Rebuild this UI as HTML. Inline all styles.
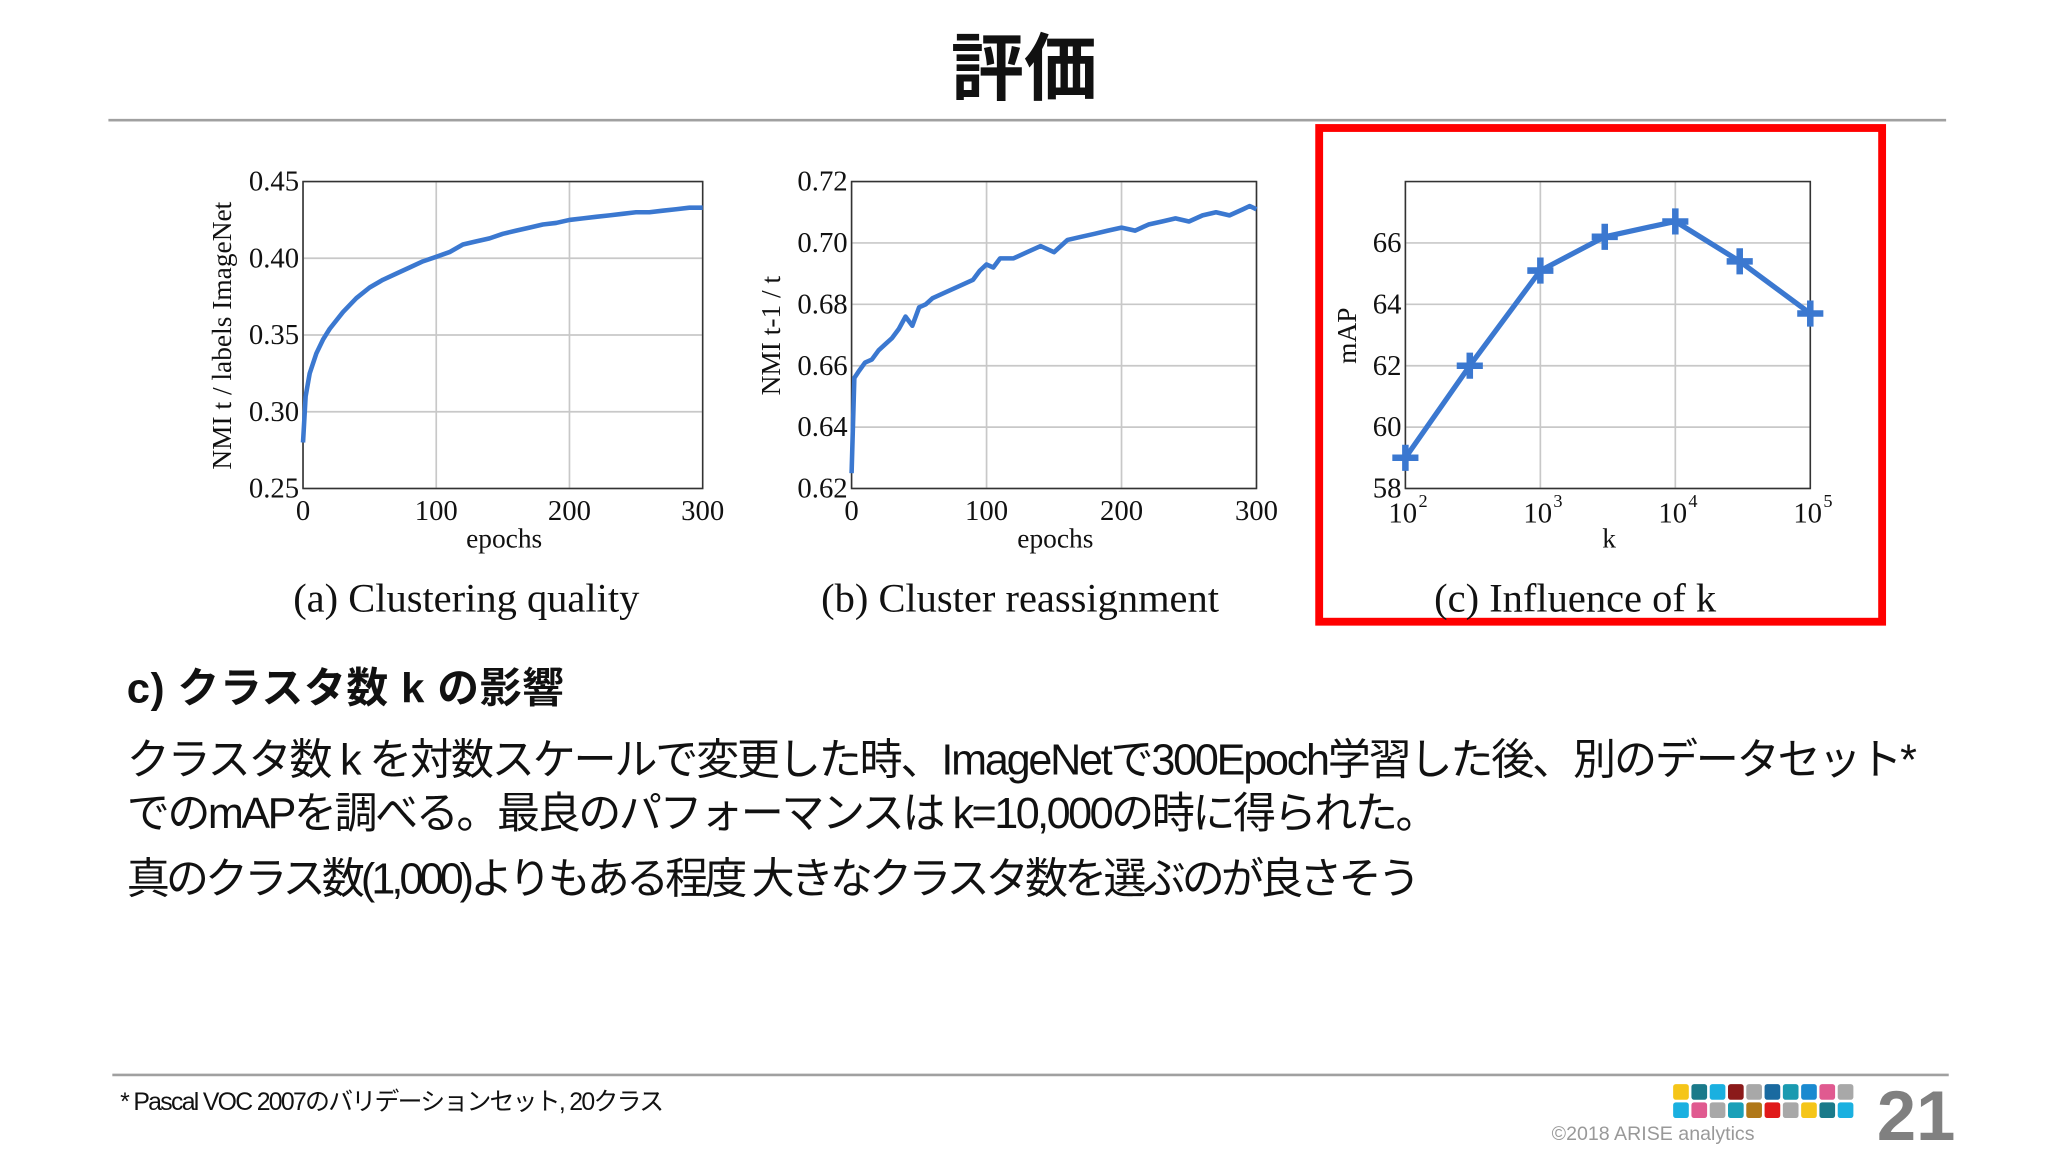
<!DOCTYPE html>
<html><head><meta charset="utf-8">
<style>
html,body{margin:0;padding:0;background:#fff;}
#wrap{width:2048px;height:1152px;overflow:hidden;position:relative;background:#fff;}
#stage{position:absolute;left:0;top:0;width:1568px;height:882px;transform:scale(1.306122);transform-origin:0 0;font-family:"Liberation Sans","Noto Sans CJK JP",sans-serif;}
.abs{position:absolute;white-space:nowrap;}
svg text{font-family:"Liberation Serif","DejaVu Serif",serif;}
</style></head><body>
<div id="wrap"><div id="stage">
<div class="abs" style="left:0;width:1568px;text-align:center;top:8px;font-size:56px;font-weight:bold;color:#111;">評価</div>
<div class="abs" style="left:83px;top:91px;width:1407px;height:2px;background:#a0a0a0;"></div>
<svg id="charts" width="1568" height="490" style="position:absolute;left:0;top:0;"></svg>
<div class="abs" style="left:97px;top:502px;font-size:32px;font-weight:bold;color:#111;letter-spacing:0.5px;">c) クラスタ数 k の影響</div>
<div class="abs" style="left:97px;top:555px;font-size:33px;color:#111;letter-spacing:-1.7px;">クラスタ数 k を対数スケールで変更した時、ImageNetで300Epoch学習した後、別のデータセット*</div>
<div class="abs" style="left:97px;top:596px;font-size:33px;color:#111;letter-spacing:-1.9px;">でのmAPを調べる。最良のパフォーマンスは k=10,000の時に得られた。</div>
<div class="abs" style="left:97px;top:646px;font-size:33px;color:#111;letter-spacing:-3px;">真のクラス数(1,000)よりもある程度 大きなクラスタ数を選ぶのが良さそう</div>
<div class="abs" style="left:86px;top:822px;width:1406px;height:2px;background:#a0a0a0;"></div>
<div class="abs" style="left:92px;top:829px;font-size:19px;color:#111;letter-spacing:-1.3px;">* Pascal VOC 2007のバリデーションセット, 20クラス</div>
<div id="logo" class="abs" style="left:1281px;top:830px;width:140px;height:28px;"></div>
<div class="abs" style="left:1188px;top:860px;font-size:15px;color:#999;">©2018 ARISE analytics</div>
<div class="abs" style="left:1437px;top:824px;font-size:54px;font-weight:bold;color:#808080;">21</div>
</div></div>
<script>
// ---------- data ----------
const epochsA = [0,2,5,10,15,20,30,40,50,60,70,80,90,100,110,120,130,140,150,160,170,180,190,200,210,220,230,240,250,260,270,280,290,300];
const nmiA    = [0.28,0.31,0.325,0.338,0.347,0.354,0.365,0.374,0.381,0.386,0.390,0.394,0.398,0.401,0.404,0.409,0.411,0.413,0.416,0.418,0.420,0.422,0.423,0.425,0.426,0.427,0.428,0.429,0.430,0.430,0.431,0.432,0.433,0.433];
const epochsB = [0,2,5,10,15,20,25,30,35,40,45,50,55,60,70,80,90,95,100,105,110,120,130,140,150,160,170,180,190,200,210,220,230,240,250,260,270,280,290,295,300];
const nmiB    = [0.625,0.656,0.658,0.661,0.662,0.665,0.667,0.669,0.672,0.676,0.673,0.679,0.68,0.682,0.684,0.686,0.688,0.691,0.693,0.692,0.695,0.695,0.697,0.699,0.697,0.701,0.702,0.703,0.704,0.705,0.704,0.706,0.707,0.708,0.707,0.709,0.71,0.709,0.711,0.712,0.711];
const kValues = [100,300,1000,3000,10000,30000,100000];
const mapValues = [59.0,62.0,65.1,66.2,66.7,65.4,63.7];
const ticksAY = [0.25,0.30,0.35,0.40,0.45];
const ticksBY = [0.62,0.64,0.66,0.68,0.70,0.72];
const ticksEp = [0,100,200,300];
const ticksCY = [58,60,62,64,66];
const ticksCExp = [2,3,4,5];
const logoColors = ["#f5c518","#1a7a8a","#1ab0e0","#8b1a1a","#a8a8a8","#1a6aa0","#1a9ab0","#1a8ad0","#e05a90","#a8a8a8","#1ab0e0","#e05a90","#a8a8a8","#1aa0b8","#b07818","#e01a1a","#a8a8a8","#f5c518","#1a7a8a","#1ab0e0"];

const NS="http://www.w3.org/2000/svg";
const svg=document.getElementById('charts');
function el(tag,attrs,parent){const e=document.createElementNS(NS,tag);for(const k in attrs)e.setAttribute(k,attrs[k]);(parent||svg).appendChild(e);return e;}
function txt(s,attrs,parent){const e=el('text',attrs,parent);e.textContent=s;return e;}

function panel(name,box,xmin,xmax,ymin,ymax,xScaleFn){
  const g=el('g',{});
  
  
  const sx=v=>box.x0+(xScaleFn(v)-xScaleFn(xmin))/(xScaleFn(xmax)-xScaleFn(xmin))*(box.x1-box.x0);
  const sy=v=>box.y1-(v-ymin)/(ymax-ymin)*(box.y1-box.y0);
  return {g,sx,sy};
}
const lin=v=>v, lg=v=>Math.log10(v);

function frame(p,box,yt,xt,ylabFmt,xlabelsFn,sxTick){
  yt.forEach(t=>{
    const l=el('line',{x1:box.x0,x2:box.x1,y1:p.sy(t),y2:p.sy(t),stroke:'#c8c8c8','stroke-width':1.3},p.g);
    
  });
  xt.forEach(t=>{
    const x=sxTick(t);
    const l=el('line',{x1:x,x2:x,y1:box.y0,y2:box.y1,stroke:'#c8c8c8','stroke-width':1.3},p.g);
    
  });
  const r=el('rect',{x:box.x0,y:box.y0,width:box.x1-box.x0,height:box.y1-box.y0,fill:'none',stroke:'#333','stroke-width':1.2},p.g);
  
  yt.forEach(t=>{
    const e=txt(ylabFmt(t),{x:box.x0-3,y:p.sy(t)+7,'text-anchor':'end','font-size':22,fill:'#111'},p.g);
    
  });
  xlabelsFn();
}

// Panel A
(function(){
  const box={x0:232,x1:538,y0:139,y1:374};
  const p=panel('panel-a-clustering-quality',box,0,300,0.25,0.45,lin);
  frame(p,box,ticksAY,ticksEp,t=>t.toFixed(2),()=>{
    ticksEp.forEach(t=>{const e=txt(String(t),{x:p.sx(t),y:398,'text-anchor':'middle','font-size':22,fill:'#111'},p.g);
      });
  },t=>p.sx(t));
  const d=epochsA.map((e,i)=>(i?'L':'M')+p.sx(e).toFixed(1)+','+p.sy(nmiA[i]).toFixed(1)).join('');
  const l=el('path',{d,fill:'none',stroke:'#3b78d0','stroke-width':3.5,'stroke-linejoin':'round'},p.g);
  
  const xl=txt('epochs',{x:386,y:419,'text-anchor':'middle','font-size':21,fill:'#111'},p.g);
  
  const yl=txt('NMI t / labels ImageNet',{x:0,y:0,'text-anchor':'middle','font-size':21,fill:'#111',transform:'translate(177,257) rotate(-90)'},p.g);
  
  const c=txt('(a) Clustering quality',{x:357,y:468,'text-anchor':'middle','font-size':31,fill:'#111'},p.g);
  
})();

// Panel B
(function(){
  const box={x0:652,x1:962,y0:139,y1:374};
  const p=panel('panel-b-cluster-reassignment',box,0,300,0.62,0.72,lin);
  frame(p,box,ticksBY,ticksEp,t=>t.toFixed(2),()=>{
    ticksEp.forEach(t=>{const e=txt(String(t),{x:p.sx(t),y:398,'text-anchor':'middle','font-size':22,fill:'#111'},p.g);
      });
  },t=>p.sx(t));
  const d=epochsB.map((e,i)=>(i?'L':'M')+p.sx(e).toFixed(1)+','+p.sy(nmiB[i]).toFixed(1)).join('');
  const l=el('path',{d,fill:'none',stroke:'#3b78d0','stroke-width':3.5,'stroke-linejoin':'round'},p.g);
  
  const xl=txt('epochs',{x:808,y:419,'text-anchor':'middle','font-size':21,fill:'#111'},p.g);
  
  const yl=txt('NMI t-1 / t',{x:0,y:0,'text-anchor':'middle','font-size':21,fill:'#111',transform:'translate(597,257) rotate(-90)'},p.g);
  
  const c=txt('(b) Cluster reassignment',{x:781,y:468,'text-anchor':'middle','font-size':31,fill:'#111'},p.g);
  
})();

// Panel C
(function(){
  const hl=el('rect',{x:1010,y:98,width:431,height:378,fill:'none',stroke:'#ff0000','stroke-width':6});
  
  const box={x0:1076,x1:1386,y0:139,y1:374};
  const p=panel('panel-c-influence-of-k',box,100,100000,58,68,lg);
  frame(p,box,ticksCY,ticksCExp,t=>String(t),()=>{
    ticksCExp.forEach(t=>{
      const x=p.sx(Math.pow(10,t));
      const e=txt('10',{x:x-2,y:400,'text-anchor':'middle','font-size':22,fill:'#111'},p.g);
      
      const s=txt(String(t),{x:x+10,y:388,'font-size':14,fill:'#111'},p.g);
      
    });
  },t=>p.sx(Math.pow(10,t)));
  const d=kValues.map((k,i)=>(i?'L':'M')+p.sx(k).toFixed(1)+','+p.sy(mapValues[i]).toFixed(1)).join('');
  const l=el('path',{d,fill:'none',stroke:'#3b78d0','stroke-width':4,'stroke-linejoin':'round'},p.g);
  
  kValues.forEach((k,i)=>{
    const x=p.sx(k),y=p.sy(mapValues[i]);
    const m=el('path',{d:`M${x-10},${y}H${x+10}M${x},${y-10}V${y+10}`,stroke:'#3b78d0','stroke-width':5},p.g);
    
  });
  const xl=txt('k',{x:1232,y:419,'text-anchor':'middle','font-size':21,fill:'#111'},p.g);
  
  const yl=txt('mAP',{x:0,y:0,'text-anchor':'middle','font-size':21,fill:'#111',transform:'translate(1038,257) rotate(-90)'},p.g);
  
  const c=txt('(c) Influence of k',{x:1206,y:468,'text-anchor':'middle','font-size':31,fill:'#111'},p.g);
  
})();

// logo
const logo=document.getElementById('logo');
logoColors.forEach((c,i)=>{
  const d=document.createElement('div');
  
  
  const col=i%10,row=Math.floor(i/10);
  d.style.cssText=`position:absolute;left:${col*14}px;top:${row*14}px;width:12px;height:12px;border-radius:2px;background:${c};`;
  logo.appendChild(d);
});
</script>
</body></html>
